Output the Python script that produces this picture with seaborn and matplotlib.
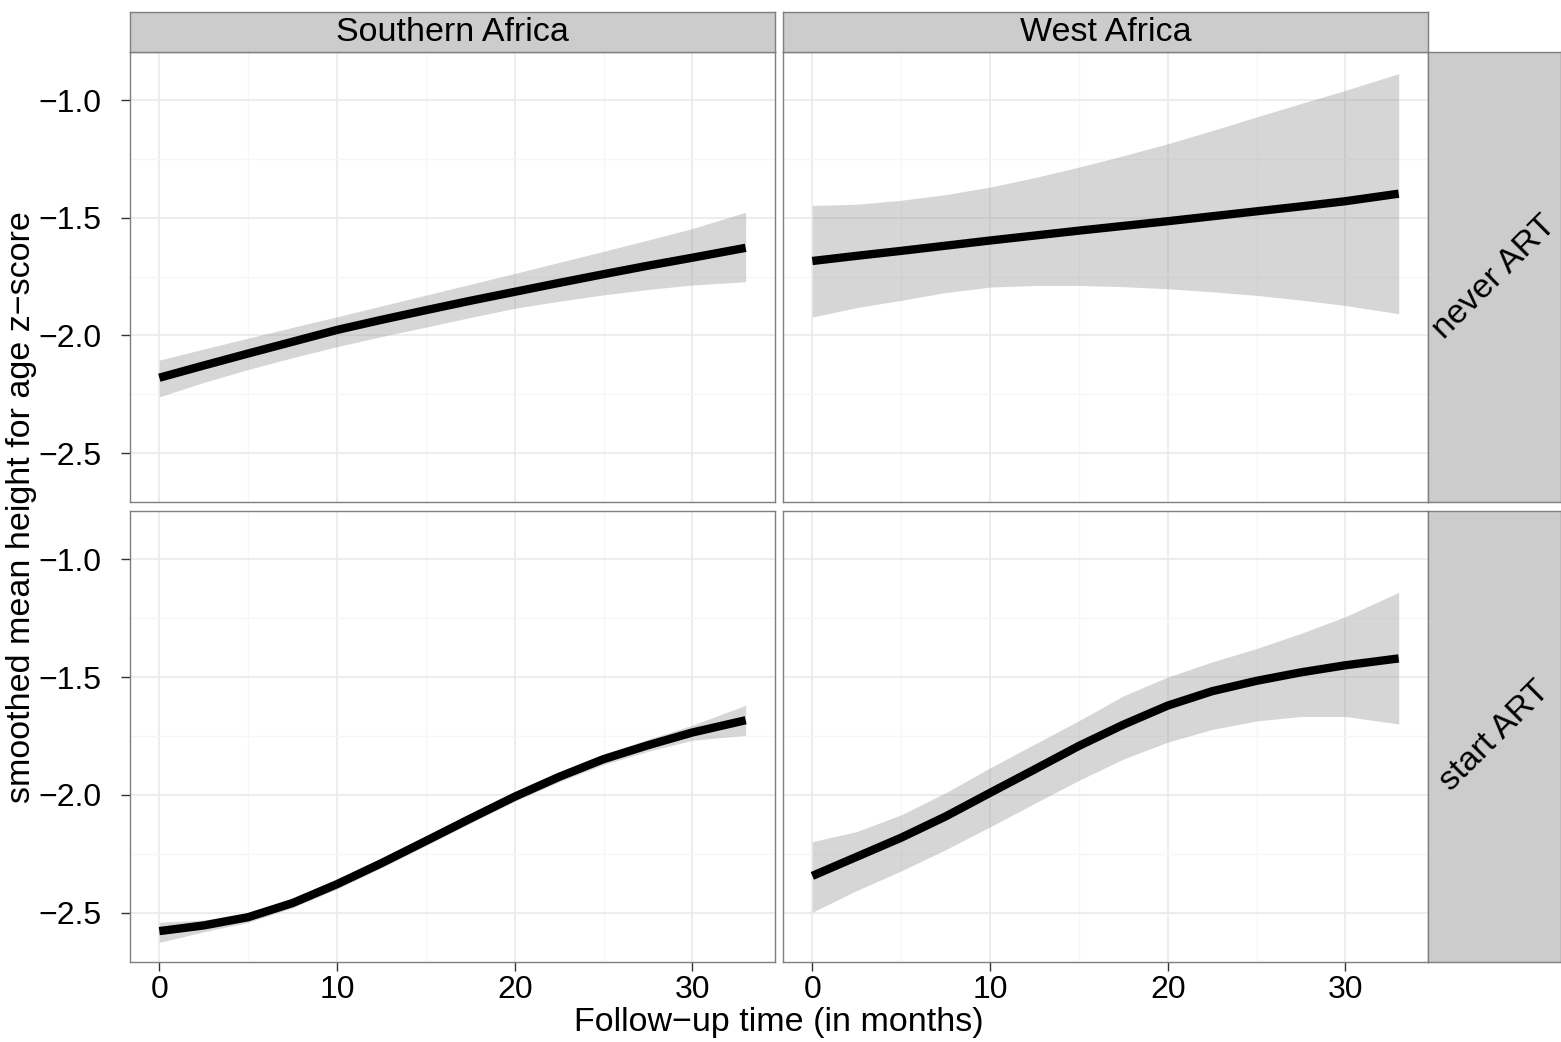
import numpy as np
import pandas as pd
import matplotlib
matplotlib.use("Agg")
import matplotlib.pyplot as plt
import seaborn as sns

# ---------------- data ----------------
months = [0, 2.5, 5, 7.5, 10, 12.5, 15, 17.5, 20, 22.5, 25, 27.5, 30, 33]
regions = ["Southern Africa", "West Africa"]
art_groups = ["never ART", "start ART"]

south_never_fit = [-2.180, -2.128, -2.077, -2.027, -1.977, -1.934, -1.893, -1.853, -1.815, -1.777, -1.740, -1.704, -1.670, -1.628]
south_never_hi = [-2.105, -2.058, -2.012, -1.966, -1.921, -1.875, -1.829, -1.783, -1.737, -1.690, -1.643, -1.595, -1.546, -1.477]
south_never_lo = [-2.261, -2.200, -2.145, -2.095, -2.048, -2.005, -1.965, -1.924, -1.885, -1.855, -1.828, -1.805, -1.786, -1.772]

west_never_fit = [-1.684, -1.662, -1.641, -1.619, -1.597, -1.576, -1.555, -1.535, -1.515, -1.494, -1.473, -1.452, -1.430, -1.398]
west_never_hi = [-1.448, -1.443, -1.426, -1.402, -1.370, -1.330, -1.285, -1.237, -1.186, -1.130, -1.072, -1.015, -0.959, -0.888]
west_never_lo = [-1.922, -1.882, -1.851, -1.818, -1.795, -1.788, -1.788, -1.793, -1.802, -1.815, -1.830, -1.850, -1.873, -1.908]

south_start_fit = [-2.577, -2.553, -2.518, -2.458, -2.378, -2.289, -2.195, -2.100, -2.007, -1.923, -1.848, -1.789, -1.735, -1.683]
south_start_hi = [-2.540, -2.530, -2.498, -2.439, -2.359, -2.270, -2.176, -2.081, -1.988, -1.903, -1.826, -1.764, -1.704, -1.620]
south_start_lo = [-2.625, -2.580, -2.540, -2.478, -2.398, -2.309, -2.215, -2.120, -2.027, -1.944, -1.871, -1.815, -1.768, -1.747]

west_start_fit = [-2.343, -2.262, -2.181, -2.091, -1.991, -1.892, -1.792, -1.702, -1.621, -1.560, -1.516, -1.480, -1.450, -1.421]
west_start_hi = [-2.198, -2.155, -2.084, -1.991, -1.885, -1.785, -1.685, -1.580, -1.500, -1.436, -1.379, -1.315, -1.244, -1.141]
west_start_lo = [-2.497, -2.405, -2.322, -2.232, -2.135, -2.036, -1.938, -1.848, -1.776, -1.722, -1.686, -1.667, -1.667, -1.699]

x_ticks = [0, 10, 20, 30]
x_tick_labels = ["0", "10", "20", "30"]
y_ticks = [-2.5, -2.0, -1.5, -1.0]
y_tick_labels = ["\u22122.5", "\u22122.0", "\u22121.5", "\u22121.0"]
x_title = "Follow\u2212up time (in months)"
y_title = "smoothed mean height for age z\u2212score"

series = {
    ("Southern Africa", "never ART"): (south_never_fit, south_never_lo, south_never_hi),
    ("West Africa", "never ART"): (west_never_fit, west_never_lo, west_never_hi),
    ("Southern Africa", "start ART"): (south_start_fit, south_start_lo, south_start_hi),
    ("West Africa", "start ART"): (west_start_fit, west_start_lo, west_start_hi),
}
frames = []
for (reg, art), (fit, lo, hi) in series.items():
    frames.append(pd.DataFrame({"region": reg, "art": art, "month": months,
                                "fit": fit, "lo": lo, "hi": hi}))
df = pd.concat(frames, ignore_index=True)

# ---------------- style ----------------
sns.set_theme(style="white")
plt.rcParams["font.family"] = ["Liberation Sans", "DejaVu Sans"]

W, H = 1561, 1042
fig = plt.figure(figsize=(W / 100, H / 100), dpi=100)
fig.patch.set_facecolor("white")


def rect(x0, y0, x1, y1):
    return [x0 / W, 1 - y1 / H, (x1 - x0) / W, (y1 - y0) / H]


cols = [(130, 775), (783, 1428)]
rows = [(52, 502), (511, 962)]
border = "#7f7f7f"
strip_fill = "#cccccc"
TICK_FS = 23
TITLE_FS = 24.5

for i, art in enumerate(art_groups):
    for j, reg in enumerate(regions):
        ax = fig.add_axes(rect(cols[j][0], rows[i][0], cols[j][1], rows[i][1]))
        ax.set_facecolor("white")
        sub = df[(df.region == reg) & (df.art == art)]
        ax.fill_between(sub["month"], sub["lo"], sub["hi"], color="#999999",
                        alpha=0.4, lw=0, zorder=2)
        sns.lineplot(data=sub, x="month", y="fit", ax=ax, color="black",
                     lw=6.0, estimator=None, zorder=3, legend=False,
                     solid_capstyle="butt", solid_joinstyle="round")
        ax.set_xticks(x_ticks)
        ax.set_yticks(y_ticks)
        ax.set_xticks([5, 15, 25], minor=True)
        ax.set_yticks([-2.25, -1.75, -1.25], minor=True)
        ax.set_xlim(-1.65, 34.65)
        ax.set_ylim(-2.708, -0.796)
        ax.grid(True, which="major", color="#e8e8e8", lw=1.1, zorder=0)
        ax.grid(True, which="minor", color="#f6f6f6", lw=0.9, zorder=0)
        ax.set_axisbelow(True)
        ax.set_xlabel("")
        ax.set_ylabel("")
        for s in ax.spines.values():
            s.set_color(border)
            s.set_linewidth(1.0)
        ax.tick_params(which="minor", length=0)
        ax.tick_params(which="major", length=6.5, width=1.0, color="#333333",
                       labelsize=TICK_FS, labelcolor="black",
                       bottom=(i == 1), left=(j == 0),
                       labelbottom=(i == 1), labelleft=(j == 0))
        ax.tick_params(axis="y", pad=14)
        ax.tick_params(axis="x", pad=3)
        if j == 0:
            ax.set_yticklabels(y_tick_labels)
        else:
            ax.set_yticklabels([])
        if i == 1:
            ax.set_xticklabels(x_tick_labels)
        else:
            ax.set_xticklabels([])

# top strips
for j, reg in enumerate(regions):
    sax = fig.add_axes(rect(cols[j][0], 12, cols[j][1], 52))
    sax.set_facecolor(strip_fill)
    sax.set_xticks([]); sax.set_yticks([])
    for s in sax.spines.values():
        s.set_color(border); s.set_linewidth(1.0)
    sax.text(0.5, 0.48, reg, ha="center", va="center", fontsize=TITLE_FS,
             transform=sax.transAxes, color="black")

# right strips
for i, art in enumerate(art_groups):
    sax = fig.add_axes(rect(1428, rows[i][0], 1561, rows[i][1]))
    sax.set_facecolor(strip_fill)
    sax.set_xticks([]); sax.set_yticks([])
    for s in sax.spines.values():
        s.set_color(border); s.set_linewidth(1.0)
    sax.text(0.5, 0.5, art, ha="center", va="center", rotation=45,
             rotation_mode="anchor", fontsize=TITLE_FS,
             transform=sax.transAxes, color="black")

fig.text(779 / W, 1 - 1022 / H, x_title, ha="center", va="center",
         fontsize=TITLE_FS, color="black")
fig.text(22 / W, 1 - 507 / H, y_title, ha="center", va="center",
         rotation=90, fontsize=TITLE_FS, color="black")

fig.savefig("out.png", dpi=100, facecolor="white")
